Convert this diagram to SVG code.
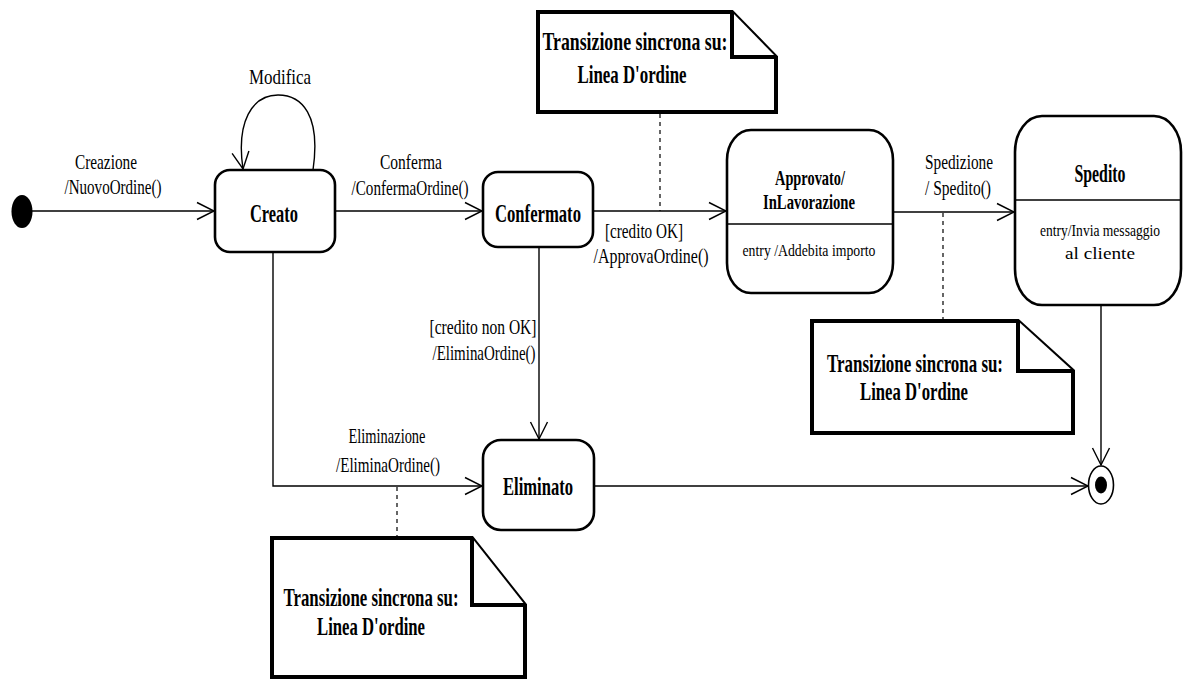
<svg xmlns="http://www.w3.org/2000/svg" width="1186" height="681" viewBox="0 0 1186 681">
  <style>
    .state { fill: #ffffff; stroke: #000000; stroke-width: 2.6; }
    .div { stroke: #000000; stroke-width: 1.6; }
    .note { fill: #ffffff; stroke: #000000; stroke-width: 4; stroke-linejoin: miter; }
    .edge { fill: none; stroke: #000000; stroke-width: 1.4; }
    .dash { fill: none; stroke: #000000; stroke-width: 1.2; stroke-dasharray: 4 4; }
    .name { font-family: "Liberation Serif", "Times New Roman", serif; font-weight: bold; font-size: 25px; text-anchor: middle; fill: #000000; }
    .sub { font-family: "Liberation Serif", "Times New Roman", serif; font-size: 17px; text-anchor: middle; fill: #000000; }
    .lbl { font-family: "Liberation Serif", "Times New Roman", serif; font-size: 21px; text-anchor: middle; fill: #000000; }
    .ntxt { font-family: "Liberation Serif", "Times New Roman", serif; font-weight: bold; font-size: 26px; text-anchor: middle; fill: #000000; }
  </style>
  <defs>
    <marker id="open" markerUnits="userSpaceOnUse" viewBox="-19 -11 21 22" refX="0" refY="0" markerWidth="21" markerHeight="22" orient="auto">
      <path d="M-17,-8.5 L0,0 L-17,8.5" fill="none" stroke="#000000" stroke-width="1.4"/>
    </marker>
  </defs>
  <rect width="1186" height="681" fill="#ffffff"/>

  <!-- transitions -->
  <g id="connectors">
    <path class="edge" d="M32,211 L214,211" marker-end="url(#open)"/>
    <path class="edge" d="M313,170 C321,115 302,95 278,95 C252,95 236,122 243,169" marker-end="url(#open)"/>
    <path class="edge" d="M335,211 L482,211" marker-end="url(#open)"/>
    <path class="edge" d="M593,211 L726,211" marker-end="url(#open)"/>
    <path class="edge" d="M893,212 L1014,212" marker-end="url(#open)"/>
    <path class="edge" d="M539,247 L539,439" marker-end="url(#open)"/>
    <path class="edge" d="M273,252 L273,486 L482,486" marker-end="url(#open)"/>
    <path class="edge" d="M594,486 L1088,486" marker-end="url(#open)"/>
    <path class="edge" d="M1101,305 L1101,465" marker-end="url(#open)"/>
    <!-- note anchors -->
    <path class="dash" d="M660,114 L660,211"/>
    <path class="dash" d="M943,213 L943,319"/>
    <path class="dash" d="M397,487 L397,536"/>
  </g>

  <!-- transition labels -->
  <g id="labels">
    <text class="lbl" x="280" y="84" textLength="62" lengthAdjust="spacingAndGlyphs">Modifica</text>
    <text class="lbl" x="106" y="169" textLength="62" lengthAdjust="spacingAndGlyphs">Creazione</text>
    <text class="lbl" x="113" y="194" textLength="97" lengthAdjust="spacingAndGlyphs">/NuovoOrdine()</text>
    <text class="lbl" x="411" y="169" textLength="62" lengthAdjust="spacingAndGlyphs">Conferma</text>
    <text class="lbl" x="410" y="195" textLength="117" lengthAdjust="spacingAndGlyphs">/ConfermaOrdine()</text>
    <text class="lbl" x="644" y="238" textLength="78" lengthAdjust="spacingAndGlyphs">[credito OK]</text>
    <text class="lbl" x="651" y="263" textLength="115" lengthAdjust="spacingAndGlyphs">/ApprovaOrdine()</text>
    <text class="lbl" x="959" y="169" textLength="68" lengthAdjust="spacingAndGlyphs">Spedizione</text>
    <text class="lbl" x="958" y="195" textLength="66" lengthAdjust="spacingAndGlyphs">/ Spedito()</text>
    <text class="lbl" x="483" y="334" textLength="107" lengthAdjust="spacingAndGlyphs">[credito non OK]</text>
    <text class="lbl" x="484" y="360" textLength="103" lengthAdjust="spacingAndGlyphs">/EliminaOrdine()</text>
    <text class="lbl" x="387" y="443" textLength="77" lengthAdjust="spacingAndGlyphs">Eliminazione</text>
    <text class="lbl" x="388" y="472" textLength="104" lengthAdjust="spacingAndGlyphs">/EliminaOrdine()</text>
  </g>

  <!-- initial pseudo-state -->
  <g id="initial">
    <ellipse cx="22" cy="211.5" rx="10.5" ry="16.5" fill="#000000"/>
  </g>

  <g id="creato">
    <rect class="state" x="215" y="170" width="120" height="82" rx="15" ry="15"/>
    <text class="name" x="274" y="222" textLength="48" lengthAdjust="spacingAndGlyphs">Creato</text>
  </g>

  <g id="confermato">
    <rect class="state" x="483" y="172" width="110" height="75" rx="15" ry="15"/>
    <text class="name" x="538" y="222" textLength="86" lengthAdjust="spacingAndGlyphs">Confermato</text>
  </g>

  <g id="approvato">
    <rect class="state" x="727" y="130" width="166" height="163" rx="24" ry="30"/>
    <line class="div" x1="727" y1="224" x2="893" y2="224"/>
    <text class="name" x="810" y="185" style="font-size:22px" textLength="70" lengthAdjust="spacingAndGlyphs">Approvato/</text>
    <text class="name" x="809" y="209" style="font-size:22px" textLength="92" lengthAdjust="spacingAndGlyphs">InLavorazione</text>
    <text class="sub" x="809" y="256" textLength="133" lengthAdjust="spacingAndGlyphs">entry /Addebita importo</text>
  </g>

  <g id="spedito">
    <rect class="state" x="1015" y="116" width="166" height="189" rx="27" ry="36"/>
    <line class="div" x1="1015" y1="200" x2="1181" y2="200"/>
    <text class="name" x="1100" y="182" textLength="51" lengthAdjust="spacingAndGlyphs">Spedito</text>
    <text class="sub" x="1100" y="236" textLength="120" lengthAdjust="spacingAndGlyphs">entry/Invia messaggio</text>
    <text class="sub" x="1100" y="259" textLength="70" lengthAdjust="spacingAndGlyphs">al cliente</text>
  </g>

  <g id="eliminato">
    <rect class="state" x="483" y="440" width="111" height="90" rx="18" ry="18"/>
    <text class="name" x="538" y="495" textLength="70" lengthAdjust="spacingAndGlyphs">Eliminato</text>
  </g>

  <!-- final state -->
  <g id="final">
    <ellipse cx="1101" cy="485" rx="12.5" ry="19" fill="#ffffff" stroke="#000000" stroke-width="1.6"/>
    <ellipse cx="1101" cy="485" rx="6" ry="8.5" fill="#000000"/>
  </g>

  <!-- notes -->
  <g id="note-top">
    <path class="note" d="M538,12 L732,12 L776,57 L776,112 L538,112 Z"/>
    <path class="note" d="M732,12 L732,57 L776,57" fill="none"/>
    <text class="ntxt" x="635" y="50" textLength="185" lengthAdjust="spacingAndGlyphs">Transizione sincrona su:</text>
    <text class="ntxt" x="632" y="83" textLength="109" lengthAdjust="spacingAndGlyphs">Linea D'ordine</text>
  </g>

  <g id="note-right">
    <path class="note" d="M812,321 L1018,321 L1073,371 L1073,433 L812,433 Z"/>
    <path class="note" d="M1018,321 L1018,371 L1073,371" fill="none"/>
    <text class="ntxt" x="915" y="372" textLength="176" lengthAdjust="spacingAndGlyphs">Transizione sincrona su:</text>
    <text class="ntxt" x="914" y="400" textLength="108" lengthAdjust="spacingAndGlyphs">Linea D'ordine</text>
  </g>

  <g id="note-bottom">
    <path class="note" d="M272,538 L472,538 L525,605 L525,677 L272,677 Z"/>
    <path class="note" d="M472,538 L472,605 L525,605" fill="none"/>
    <text class="ntxt" x="371" y="606" textLength="175" lengthAdjust="spacingAndGlyphs">Transizione sincrona su:</text>
    <text class="ntxt" x="371" y="635" textLength="108" lengthAdjust="spacingAndGlyphs">Linea D'ordine</text>
  </g>
</svg>
